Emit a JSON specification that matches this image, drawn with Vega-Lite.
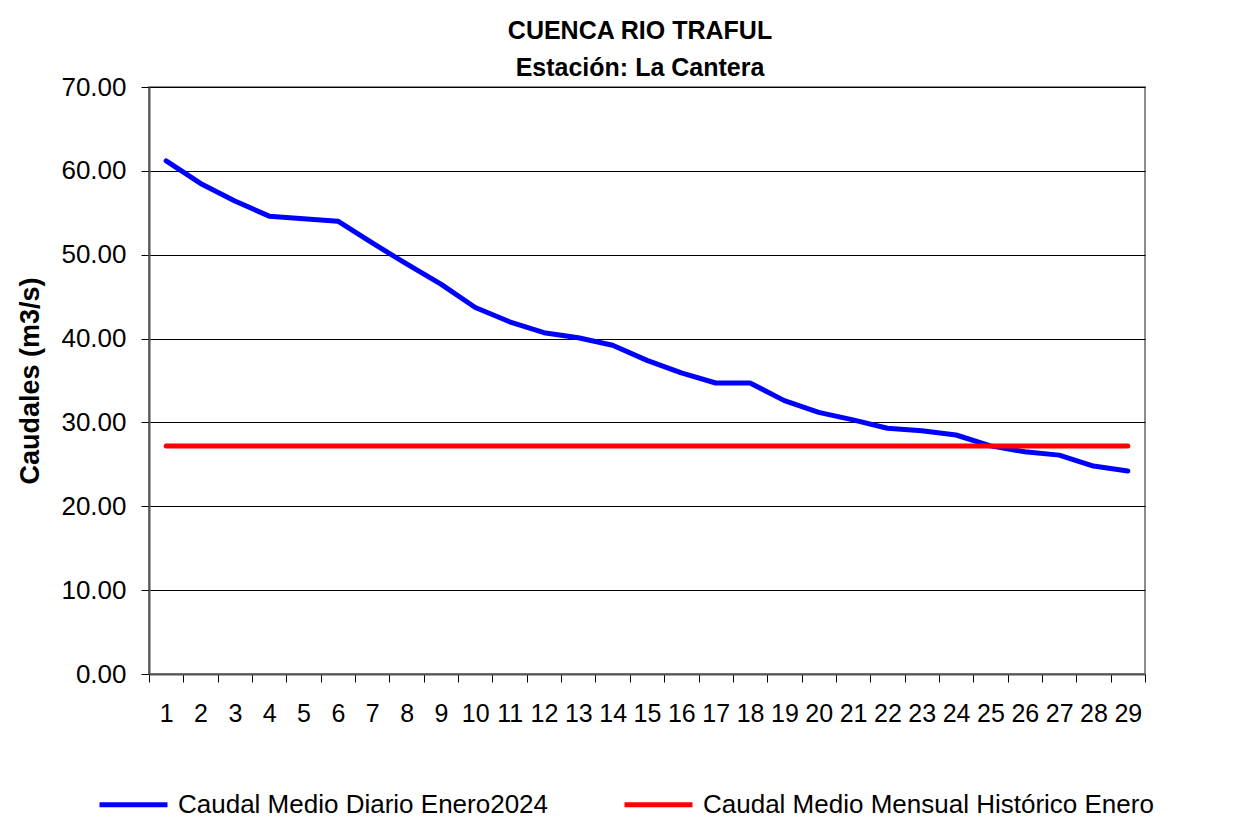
{
  "$schema": "https://vega.github.io/schema/vega-lite/v6.json",
  "width": 996,
  "height": 587,
  "autosize": {"type": "none"},
  "padding": {"left": 149, "top": 87, "right": 106, "bottom": 153},
  "background": "white",
  "title": {
    "text": ["CUENCA RIO TRAFUL", "Estación: La Cantera"],
    "font": "Liberation Sans",
    "fontSize": 25,
    "fontWeight": "bold",
    "lineHeight": 37,
    "anchor": "middle",
    "offset": -7,
    "dx": -7,
    "color": "#000000"
  },
  "data": {
    "values": [
      {"dia": 1, "serie": "Caudal Medio Diario Enero2024", "caudal": 61.2},
      {"dia": 2, "serie": "Caudal Medio Diario Enero2024", "caudal": 58.5},
      {"dia": 3, "serie": "Caudal Medio Diario Enero2024", "caudal": 56.4},
      {"dia": 4, "serie": "Caudal Medio Diario Enero2024", "caudal": 54.6},
      {"dia": 5, "serie": "Caudal Medio Diario Enero2024", "caudal": 54.3},
      {"dia": 6, "serie": "Caudal Medio Diario Enero2024", "caudal": 54.0},
      {"dia": 7, "serie": "Caudal Medio Diario Enero2024", "caudal": 51.4},
      {"dia": 8, "serie": "Caudal Medio Diario Enero2024", "caudal": 48.9},
      {"dia": 9, "serie": "Caudal Medio Diario Enero2024", "caudal": 46.5},
      {"dia": 10, "serie": "Caudal Medio Diario Enero2024", "caudal": 43.7},
      {"dia": 11, "serie": "Caudal Medio Diario Enero2024", "caudal": 42.0},
      {"dia": 12, "serie": "Caudal Medio Diario Enero2024", "caudal": 40.7},
      {"dia": 13, "serie": "Caudal Medio Diario Enero2024", "caudal": 40.1},
      {"dia": 14, "serie": "Caudal Medio Diario Enero2024", "caudal": 39.2},
      {"dia": 15, "serie": "Caudal Medio Diario Enero2024", "caudal": 37.4},
      {"dia": 16, "serie": "Caudal Medio Diario Enero2024", "caudal": 35.9},
      {"dia": 17, "serie": "Caudal Medio Diario Enero2024", "caudal": 34.7},
      {"dia": 18, "serie": "Caudal Medio Diario Enero2024", "caudal": 34.7},
      {"dia": 19, "serie": "Caudal Medio Diario Enero2024", "caudal": 32.6},
      {"dia": 20, "serie": "Caudal Medio Diario Enero2024", "caudal": 31.2},
      {"dia": 21, "serie": "Caudal Medio Diario Enero2024", "caudal": 30.3},
      {"dia": 22, "serie": "Caudal Medio Diario Enero2024", "caudal": 29.3},
      {"dia": 23, "serie": "Caudal Medio Diario Enero2024", "caudal": 29.0},
      {"dia": 24, "serie": "Caudal Medio Diario Enero2024", "caudal": 28.5},
      {"dia": 25, "serie": "Caudal Medio Diario Enero2024", "caudal": 27.2},
      {"dia": 26, "serie": "Caudal Medio Diario Enero2024", "caudal": 26.5},
      {"dia": 27, "serie": "Caudal Medio Diario Enero2024", "caudal": 26.1},
      {"dia": 28, "serie": "Caudal Medio Diario Enero2024", "caudal": 24.8},
      {"dia": 29, "serie": "Caudal Medio Diario Enero2024", "caudal": 24.2},
      {"dia": 1, "serie": "Caudal Medio Mensual Histórico Enero", "caudal": 27.2},
      {"dia": 2, "serie": "Caudal Medio Mensual Histórico Enero", "caudal": 27.2},
      {"dia": 3, "serie": "Caudal Medio Mensual Histórico Enero", "caudal": 27.2},
      {"dia": 4, "serie": "Caudal Medio Mensual Histórico Enero", "caudal": 27.2},
      {"dia": 5, "serie": "Caudal Medio Mensual Histórico Enero", "caudal": 27.2},
      {"dia": 6, "serie": "Caudal Medio Mensual Histórico Enero", "caudal": 27.2},
      {"dia": 7, "serie": "Caudal Medio Mensual Histórico Enero", "caudal": 27.2},
      {"dia": 8, "serie": "Caudal Medio Mensual Histórico Enero", "caudal": 27.2},
      {"dia": 9, "serie": "Caudal Medio Mensual Histórico Enero", "caudal": 27.2},
      {"dia": 10, "serie": "Caudal Medio Mensual Histórico Enero", "caudal": 27.2},
      {"dia": 11, "serie": "Caudal Medio Mensual Histórico Enero", "caudal": 27.2},
      {"dia": 12, "serie": "Caudal Medio Mensual Histórico Enero", "caudal": 27.2},
      {"dia": 13, "serie": "Caudal Medio Mensual Histórico Enero", "caudal": 27.2},
      {"dia": 14, "serie": "Caudal Medio Mensual Histórico Enero", "caudal": 27.2},
      {"dia": 15, "serie": "Caudal Medio Mensual Histórico Enero", "caudal": 27.2},
      {"dia": 16, "serie": "Caudal Medio Mensual Histórico Enero", "caudal": 27.2},
      {"dia": 17, "serie": "Caudal Medio Mensual Histórico Enero", "caudal": 27.2},
      {"dia": 18, "serie": "Caudal Medio Mensual Histórico Enero", "caudal": 27.2},
      {"dia": 19, "serie": "Caudal Medio Mensual Histórico Enero", "caudal": 27.2},
      {"dia": 20, "serie": "Caudal Medio Mensual Histórico Enero", "caudal": 27.2},
      {"dia": 21, "serie": "Caudal Medio Mensual Histórico Enero", "caudal": 27.2},
      {"dia": 22, "serie": "Caudal Medio Mensual Histórico Enero", "caudal": 27.2},
      {"dia": 23, "serie": "Caudal Medio Mensual Histórico Enero", "caudal": 27.2},
      {"dia": 24, "serie": "Caudal Medio Mensual Histórico Enero", "caudal": 27.2},
      {"dia": 25, "serie": "Caudal Medio Mensual Histórico Enero", "caudal": 27.2},
      {"dia": 26, "serie": "Caudal Medio Mensual Histórico Enero", "caudal": 27.2},
      {"dia": 27, "serie": "Caudal Medio Mensual Histórico Enero", "caudal": 27.2},
      {"dia": 28, "serie": "Caudal Medio Mensual Histórico Enero", "caudal": 27.2},
      {"dia": 29, "serie": "Caudal Medio Mensual Histórico Enero", "caudal": 27.2}
    ]
  },
  "mark": {"type": "line", "strokeWidth": 5, "strokeCap": "round", "strokeJoin": "round"},
  "encoding": {
    "x": {
      "field": "dia",
      "type": "ordinal",
      "bandPosition": 0.5,
      "scale": {"type": "band", "paddingInner": 0, "paddingOuter": 0},
      "axis": {
        "title": null,
        "labelAngle": 0,
        "labelFont": "Liberation Sans",
        "labelFontSize": 25,
        "labelColor": "#000000",
        "labelPadding": 19,
        "labelOverlap": false,
        "tickBand": "extent",
        "tickSize": 8,
        "tickColor": "#000000",
        "tickWidth": 1,
        "domainColor": "#555555",
        "domainWidth": 2,
        "grid": false
      }
    },
    "y": {
      "field": "caudal",
      "type": "quantitative",
      "scale": {"domain": [0, 70], "nice": false, "zero": true},
      "axis": {
        "title": "Caudales (m3/s)",
        "titleFont": "Liberation Sans",
        "titleFontSize": 27,
        "titleFontWeight": "bold",
        "titleColor": "#000000",
        "titlePadding": 16,
        "values": [0, 10, 20, 30, 40, 50, 60, 70],
        "format": ".2f",
        "labelFont": "Liberation Sans",
        "labelFontSize": 26,
        "labelColor": "#000000",
        "labelPadding": 15,
        "labelOverlap": false,
        "tickSize": 8,
        "tickColor": "#000000",
        "tickWidth": 1,
        "domainColor": "#555555",
        "domainWidth": 2,
        "grid": true,
        "gridColor": "#000000",
        "gridWidth": 1,
        "gridOpacity": 1
      }
    },
    "color": {
      "field": "serie",
      "type": "nominal",
      "scale": {
        "domain": ["Caudal Medio Diario Enero2024", "Caudal Medio Mensual Histórico Enero"],
        "range": ["#0000FF", "#FF0000"]
      },
      "legend": {
        "title": null,
        "orient": "none",
        "legendX": -52,
        "legendY": 681,
        "direction": "horizontal",
        "symbolType": "stroke",
        "symbolSize": 4624,
        "symbolStrokeWidth": 5,
        "labelFont": "Liberation Sans",
        "labelFontSize": 26,
        "labelColor": "#000000",
        "labelLimit": 700,
        "labelOffset": 8,
        "columnPadding": 65
      }
    }
  },
  "config": {
    "font": "Liberation Sans",
    "view": {"stroke": "#8c8c8c", "strokeWidth": 2}
  }
}
